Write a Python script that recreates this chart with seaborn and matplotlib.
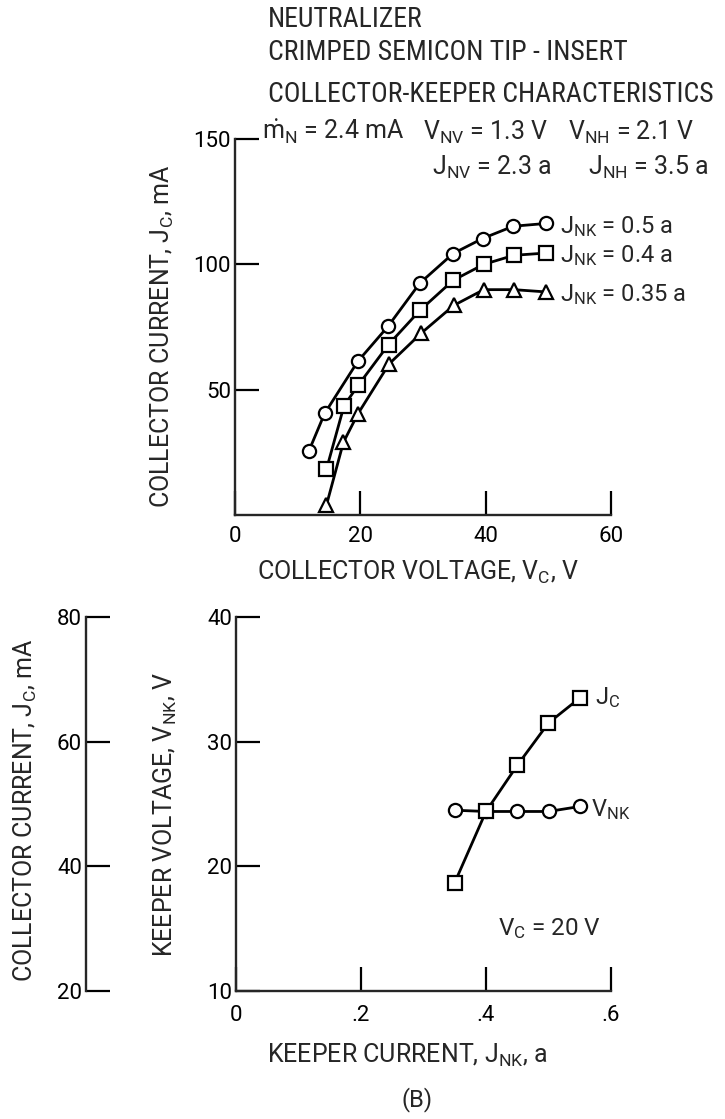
import matplotlib
matplotlib.use("Agg")
import matplotlib.pyplot as plt
from matplotlib import font_manager
import seaborn as sns

# Collector characteristics (top): collector voltage V vs collector current mA
vc_05 = [11.8, 14.3, 19.6, 24.4, 29.5, 34.8, 39.5, 44.4, 49.6]
jc_05 = [25.6, 40.5, 61.3, 75.2, 92.5, 104.3, 110.3, 115.2, 116.3]
vc_04 = [14.6, 17.4, 19.7, 24.5, 29.5, 34.8, 39.7, 44.5, 49.6]
jc_04 = [18.3, 43.6, 51.9, 68.0, 81.6, 93.6, 100.0, 103.6, 104.5]
vc_035 = [14.6, 17.3, 19.6, 24.6, 29.7, 34.9, 39.7, 44.5, 49.6]
jc_035 = [4.0, 29.0, 40.3, 60.3, 72.5, 83.6, 89.9, 89.9, 89.0]
curve_labels = ["0.5 a", "0.4 a", "0.35 a"]

# Keeper characteristics (bottom), V_C = 20 V
jnk = [0.35, 0.40, 0.45, 0.50, 0.55]
vnk = [24.5, 24.4, 24.4, 24.4, 24.8]
jc_keeper = [37.4, 48.8, 56.2, 63.0, 67.0]

sns.set_style("ticks")
names = {f.name for f in font_manager.fontManager.ttflist}
font = next((n for n in ["Roboto", "Liberation Sans", "Noto Sans"] if n in names), "DejaVu Sans")
narrow = next((n for n in ["Roboto Condensed", "Liberation Sans Narrow", "DejaVu Sans Condensed"]
               if n in names), font)
plt.rcParams["font.family"] = [font, "DejaVu Sans"]
plt.rcParams["mathtext.fontset"] = "custom"
plt.rcParams["mathtext.rm"] = font
plt.rcParams["mathtext.default"] = "regular"

W, H = 725, 1119


def fx(px):
    return px / W


def fy(py):
    return 1 - py / H


def style(ax):
    for s in ["top", "right"]:
        ax.spines[s].set_visible(False)
    for s in ["left", "bottom"]:
        ax.spines[s].set_linewidth(1.7)
    ax.tick_params(direction="in", length=17, width=1.6, labelsize=16, pad=3, colors="black")
    ax.set_facecolor("none")


fig = plt.figure(figsize=(7.25, 11.19), dpi=100)
ax1 = fig.add_axes([fx(235), fy(515), (611 - 235) / W, (515 - 139) / H])
ax2 = fig.add_axes([fx(236), fy(991), (611 - 236) / W, (991 - 617) / H])
ax3 = fig.add_axes([fx(86), fy(991), 0.002, (991 - 617) / H])
ax2b = ax2.twinx()

line_kw = dict(color="black", markersize=9.5, markerfacecolor="white", markeredgecolor="black",
               markeredgewidth=1.6, linewidth=2.0, legend=False, clip_on=False)

# top plot
series = [(vc_05, jc_05, "o"), (vc_04, jc_04, "s"), (vc_035, jc_035, "^")]
for (xs, ys, mk), lab in zip(series, curve_labels):
    sns.lineplot(x=xs, y=ys, marker=mk, ax=ax1, **line_kw)
    ax1.annotate(r"$J_{NK}$ = " + lab, xy=(xs[-1], ys[-1]), xytext=(10, -2),
                 textcoords="offset points", va="center", fontsize=17)

style(ax1)
ax1.set_xlim(0, 60)
ax1.set_ylim(0, 150)
ax1.set_xticks([0, 20, 40, 60])
ax1.set_yticks([50, 100, 150])
ax1.tick_params(axis="x", pad=8)
ax1.set_xlabel("")
ax1.set_ylabel("")

# bottom plot
sns.lineplot(x=jnk, y=vnk, marker="o", ax=ax2, **line_kw)
sns.lineplot(x=jnk, y=jc_keeper, marker="s", ax=ax2b, **line_kw)
ax2b.set_ylim(20, 80)
ax2b.set_axis_off()
ax2b.annotate(r"$J_C$", xy=(jnk[-1], jc_keeper[-1]), xytext=(11, 0),
              textcoords="offset points", va="center", fontsize=17)
ax2.annotate(r"$V_{NK}$", xy=(jnk[-1], vnk[-1]), xytext=(8, -2),
             textcoords="offset points", va="center", fontsize=17)
ax2.text(0.42, 14.5, r"$V_C$ = 20 V", fontsize=17.5, va="baseline")

style(ax2)
ax2.set_xlim(0, 0.6)
ax2.set_ylim(10, 40)
ax2.set_xticks([0, 0.2, 0.4, 0.6])
ax2.set_xticklabels(["0", ".2", ".4", ".6"])
ax2.set_yticks([10, 20, 30, 40])
ax2.tick_params(axis="x", pad=10)

# outer collector current scale for the J_C curve
style(ax3)
ax3.spines["bottom"].set_visible(False)
ax3.set_ylim(20, 80)
ax3.set_yticks([20, 40, 60, 80])
ax3.set_xticks([])

# header text
for py, line in [(27, "NEUTRALIZER"), (60, "CRIMPED SEMICON TIP - INSERT"),
                 (102, "COLLECTOR-KEEPER CHARACTERISTICS")]:
    fig.text(fx(268), fy(py), line, fontsize=20, va="baseline", family=[narrow, "DejaVu Sans"])
fig.text(fx(262), fy(140), r"$\dot{m}_N$ = 2.4 mA", fontsize=18, va="baseline")
fig.text(fx(423), fy(140), r"$V_{NV}$ = 1.3 V", fontsize=18, va="baseline")
fig.text(fx(568), fy(140), r"$V_{NH}$ = 2.1 V", fontsize=18, va="baseline")
fig.text(fx(432), fy(175), r"$J_{NV}$ = 2.3 a", fontsize=18, va="baseline")
fig.text(fx(588), fy(175), r"$J_{NH}$ = 3.5 a", fontsize=18, va="baseline")

# axis labels
fig.text(fx(162), fy(336), r"COLLECTOR CURRENT, $J_C$, mA", rotation=90,
         ha="center", va="center", fontsize=18)
fig.text(fx(418), fy(572), r"COLLECTOR VOLTAGE, $V_C$, V", ha="center", va="center", fontsize=18)
fig.text(fx(25), fy(810), r"COLLECTOR CURRENT, $J_C$, mA", rotation=90,
         ha="center", va="center", fontsize=18)
fig.text(fx(165), fy(815), r"KEEPER VOLTAGE, $V_{NK}$, V", rotation=90,
         ha="center", va="center", fontsize=18)
fig.text(fx(407), fy(1055), r"KEEPER CURRENT, $J_{NK}$, a", ha="center", va="center", fontsize=18)
fig.text(fx(417), fy(1100), "(B)", ha="center", va="center", fontsize=17)

fig.savefig("out.png", dpi=100)
